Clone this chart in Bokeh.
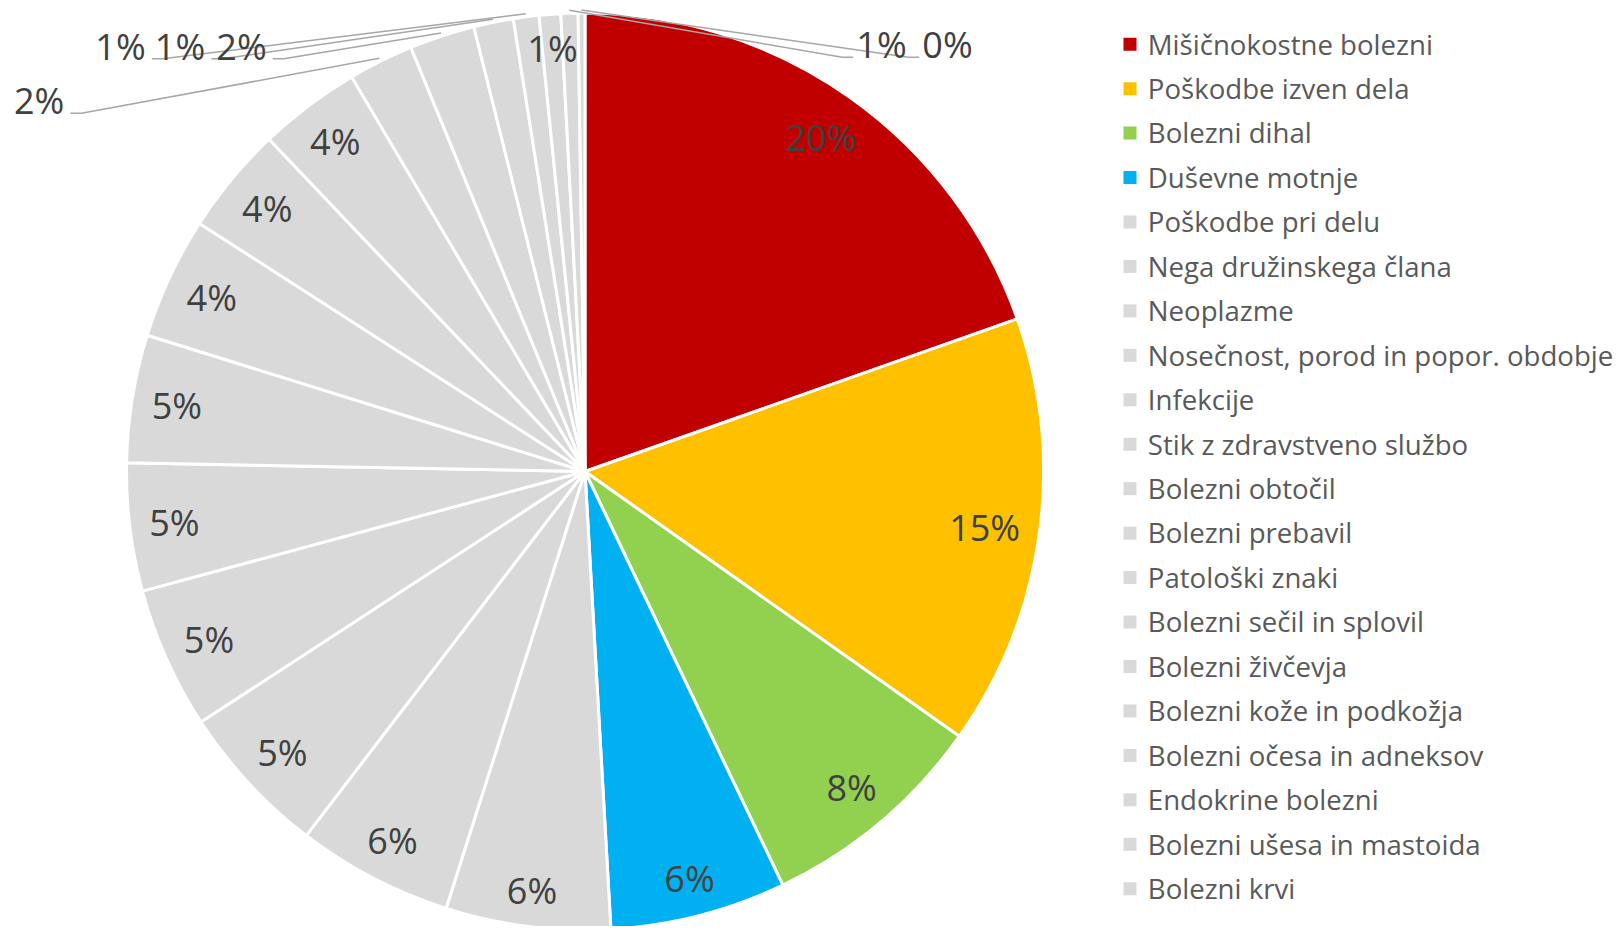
import math
from bokeh.plotting import figure
from bokeh.models import Range1d, ColumnDataSource
from bokeh.embed import file_html
from bokeh.resources import INLINE
from bokeh.core.properties import value

# ---------------- data ----------------
categories = [
    "Mišičnokostne bolezni", "Poškodbe izven dela", "Bolezni dihal", "Duševne motnje",
    "Poškodbe pri delu", "Nega družinskega člana", "Neoplazme",
    "Nosečnost, porod in popor. obdobje", "Infekcije", "Stik z zdravstveno službo",
    "Bolezni obtočil", "Bolezni prebavil", "Patološki znaki", "Bolezni sečil in splovil",
    "Bolezni živčevja", "Bolezni kože in podkožja", "Bolezni očesa in adneksov",
    "Endokrine bolezni", "Bolezni ušesa in mastoida", "Bolezni krvi",
]
shares = [19.6, 15.2, 8.1, 6.2, 5.8, 5.5, 5.4, 5.0, 4.5, 4.5,
          4.3, 3.8, 3.6, 2.3, 2.3, 1.4, 0.9, 0.76, 0.6, 0.24]
colors = ["#C00000", "#FFC000", "#92D050", "#00B0F0"] + ["#D9D9D9"] * 16

# ---------------- layout / style ----------------
W, H = 1616, 926
CX, CY, R = 584.5, 471.0, 458.5          # page pixels
LABEL_FS = 36
LEG_FS = 27.6
FONT = "Open Sans"
LABEL_COLOR = "#404040"
LEG_COLOR = "#595959"
LEADER_COLOR = "#A6A6A6"
# outside (leader) labels: slice index -> (text centre x, text centre y, side)
OUTSIDE = {13: (38.7, 100.0, "L"), 14: (241.0, 45.5, "L"), 15: (179.5, 45.5, "L"),
           16: (120.0, 45.5, "L"), 18: (881.0, 44.0, "R"), 19: (947.0, 44.0, "R")}
LEG_X0, LEG_Y0, LEG_DY = 1129.5, 43.7, 44.45

p = figure(width=W, height=H, x_range=Range1d(0, W), y_range=Range1d(-H, 0),
           output_backend="svg", toolbar_location=None, min_border=0,
           x_axis_location=None, y_axis_location=None)
p.grid.visible = False
p.outline_line_color = None
p.background_fill_color = "white"
p.border_fill_color = "white"

total = float(sum(shares))
starts, ends, mids = [], [], []
cum = 0.0
for v in shares:
    a0 = cum / total * 360.0
    cum += v
    a1 = cum / total * 360.0
    starts.append(a0); ends.append(a1); mids.append((a0 + a1) / 2)

src = ColumnDataSource(dict(
    start=[math.pi / 2 - math.radians(a) for a in starts],
    end=[math.pi / 2 - math.radians(a) for a in ends],
    color=colors,
))
p.wedge(x=CX, y=-CY, radius=R, start_angle="start", end_angle="end", direction="clock",
        fill_color="color", line_color="white", line_width=3, source=src)

labels = ["%d%%" % int(v + 0.5) for v in shares]

in_x, in_y, in_t = [], [], []
out_x, out_y, out_t = [], [], []
lead_xs, lead_ys = [], []
hh = 0.357 * LABEL_FS
for i, (lab, m) in enumerate(zip(labels, mids)):
    th = math.radians(m)
    w = (0.572 * (len(lab) - 1) + 0.823) * LABEL_FS - 0.1 * LABEL_FS
    if i in OUTSIDE:
        tx, ty, side = OUTSIDE[i]
        base = ty + hh
        out_x.append(tx); out_y.append(-ty); out_t.append(lab)
        ex = CX + (R + 3) * math.sin(th)
        ey = CY - (R + 3) * math.cos(th)
        if side == "L":
            x1, x2 = tx + w / 2 + 8, tx + w / 2 + 19
        else:
            x1, x2 = tx - w / 2 - 5, tx - w / 2 - 16
        lead_xs.append([x1, x2, ex]); lead_ys.append([-base, -base, -ey])
    else:
        ext = abs(math.sin(th)) * w / 2 + abs(math.cos(th)) * hh
        r = R - 20 - ext
        lx = CX + r * math.sin(th)
        ly = CY - r * math.cos(th)
        in_x.append(lx); in_y.append(-ly); in_t.append(lab)

p.multi_line(xs=lead_xs, ys=lead_ys, line_color=LEADER_COLOR, line_width=1.5)

p.text(x=in_x, y=in_y, text=in_t, text_font=value(FONT), text_font_size="%dpx" % LABEL_FS,
       text_color=LABEL_COLOR, text_align="center", text_baseline="alphabetic")
p.text(x=out_x, y=out_y, text=out_t, text_font=value(FONT), text_font_size="%dpx" % LABEL_FS,
       text_color=LABEL_COLOR, text_align="center", text_baseline="alphabetic")

# legend (drawn manually)
ly = [-(LEG_Y0 + i * LEG_DY) for i in range(len(categories))]
p.rect(x=[LEG_X0] * len(categories), y=ly, width=13, height=13,
       fill_color=colors, line_color=None)
p.text(x=[LEG_X0 + 17.8] * len(categories), y=[y + 0.7 for y in ly], text=categories,
       text_font=value(FONT), text_font_size="%.1fpx" % LEG_FS, text_color=LEG_COLOR,
       text_align="left", text_baseline="alphabetic")

open("out.html", "w").write(file_html(p, INLINE))
